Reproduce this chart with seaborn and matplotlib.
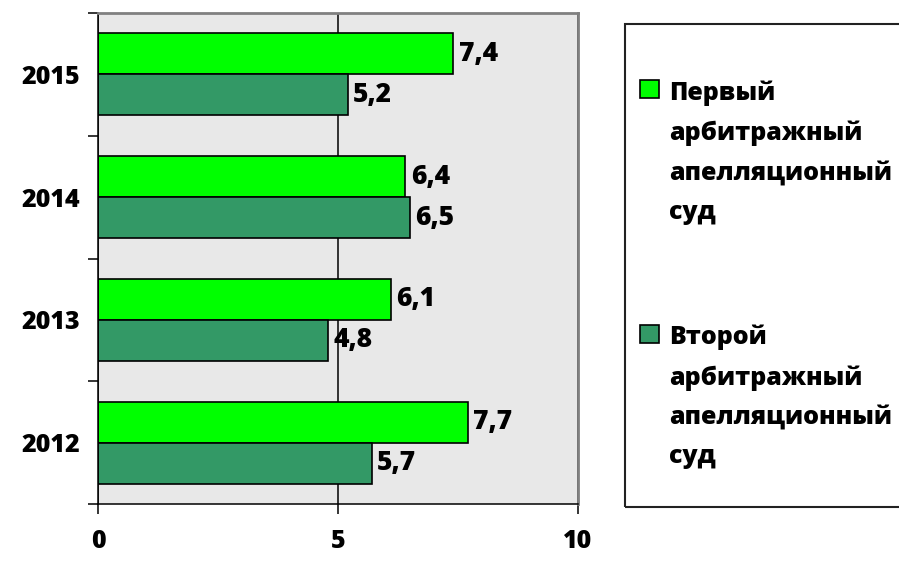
import matplotlib.pyplot as plt
import seaborn as sns
import pandas as pd
from matplotlib.patches import Rectangle

years = ["2015", "2014", "2013", "2012"]
first_court = [7.4, 6.4, 6.1, 7.7]
second_court = [5.2, 6.5, 4.8, 5.7]
series_names = ["Первый\nарбитражный\nапелляционный\nсуд",
                "Второй\nарбитражный\nапелляционный\nсуд"]
x_ticks = [0, 5, 10]

colors = ["#00ff00", "#339966"]
weight = 800

df = pd.DataFrame({
  "year": years * 2,
  "value": first_court + second_court,
  "court": [series_names[0]] * 4 + [series_names[1]] * 4,
})

sns.set_style("white")
plt.rcParams["font.family"] = ["Open Sans", "DejaVu Sans"]
plt.rcParams["font.weight"] = weight
plt.rcParams["text.color"] = "black"
plt.rcParams["xtick.color"] = "black"
plt.rcParams["ytick.color"] = "black"

f = plt.figure(figsize=(8.99, 5.65), dpi=100)
ax = f.add_axes([98 / 899, 61 / 565, 480 / 899, 491 / 565])

sns.barplot(data=df, y="year", x="value", hue="court",
            order=years, hue_order=series_names,
            palette=colors, orient="h", width=2 / 3,
            edgecolor="black", linewidth=1.2, saturation=1,
            legend=True, ax=ax)

# value labels with decimal comma
for cont in ax.containers:
  ax.bar_label(cont, labels=[f"{b.get_width():.1f}".replace(".", ",") for b in cont],
               padding=4, fontsize=19, fontweight=weight, color="black")

ax.set_facecolor("#e8e8e8")
ax.set_xlim(0, 10)
ax.set_ylim(3.5, -0.5)
ax.set_axisbelow(True)
ax.grid(axis="x", color="black", linewidth=1.1)
ax.grid(axis="y", visible=False)

for s in ["left", "bottom"]:
  ax.spines[s].set_color("black")
  ax.spines[s].set_linewidth(1.1)
for s in ["right", "top"]:
  ax.spines[s].set_color("#808080")
  ax.spines[s].set_linewidth(2)

ax.set_xticks(x_ticks, labels=[str(t) for t in x_ticks])
ax.set_yticks([-0.5, 0.5, 1.5, 2.5, 3.5], minor=True)
ax.tick_params(axis="y", which="major", length=0, pad=13, labelsize=18)
ax.tick_params(axis="y", which="minor", length=7, width=1.1, color="black", direction="out", left=True)
ax.tick_params(axis="x", length=7, width=1.1, color="black", direction="out", bottom=True,
               pad=11, labelsize=18)
for lab in ax.get_xticklabels() + ax.get_yticklabels():
  lab.set_fontweight(weight)
ax.set_xlabel("")
ax.set_ylabel("")

# legend, frame drawn separately
handles, labels = ax.get_legend_handles_labels()
ax.get_legend().remove()
leg = f.legend(handles, labels, loc="upper left", bbox_to_anchor=(640 / 899, 1 - 80 / 565),
               frameon=False, fontsize=18, handlelength=0.75, handleheight=0.75,
               handletextpad=0.4, labelspacing=4.0, borderpad=0, borderaxespad=0)
for col in leg._legend_handle_box.get_children():
  for item in col.get_children():
    item.align = "top"
for t in leg.get_texts():
  t.set_fontweight(weight)
  t.set_linespacing(1.76)
f.patches.append(Rectangle((625 / 899, 58 / 565), 300 / 899, 483 / 565,
                           transform=f.transFigure, fill=False,
                           edgecolor="#222222", linewidth=1.5))

plt.savefig("out.png")
